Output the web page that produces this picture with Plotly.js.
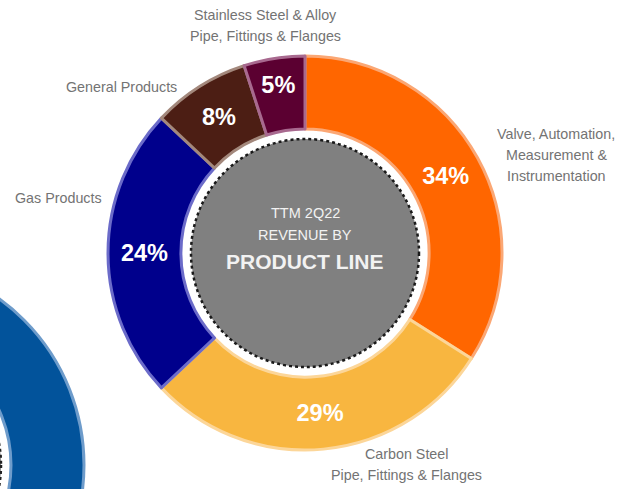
<!DOCTYPE html>
<html>
<head>
<meta charset="utf-8">
<script src="https://cdn.plot.ly/plotly-3.0.1.min.js"></script>
<style>
html,body{margin:0;padding:0;background:#fff;}
#chart{width:632px;height:489px;}
</style>
</head>
<body>
<div id="chart"></div>
<script>
// ---- data ----
const categories = [
  'Valve, Automation, Measurement & Instrumentation',
  'Carbon Steel Pipe, Fittings & Flanges',
  'Gas Products',
  'General Products',
  'Stainless Steel & Alloy Pipe, Fittings & Flanges'
];
const shares = [34, 29, 24, 8, 5];
const labelLines = [
  ['Valve, Automation,', 'Measurement &', 'Instrumentation'],
  ['Carbon Steel', 'Pipe, Fittings & Flanges'],
  ['Gas Products'],
  ['General Products'],
  ['Stainless Steel & Alloy', 'Pipe, Fittings & Flanges']
];
const centerLines = ['TTM 2Q22', 'REVENUE BY', 'PRODUCT LINE'];

// ---- styles ----
const W = 632, H = 489;
const fillColors = ['#FF6600', '#F8B640', '#00008C', '#4C1E14', '#5B0031'];
const edgeColors = ['#FBA774', '#FCD699', '#6B6BC9', '#A3887C', '#A8698F'];
const FONT = '"Liberation Sans", Arial, sans-serif';
const cx = 305, cy = 253, R = 197;
const labelPos = [[556, 155], [406, 464], [58, 198], [121, 87], [265, 26]];
const lineGap = 21;
const centerPos = [[cx, 213], [cx, 235], [cx, 261]];
const centerSizes = [14.5, 14.5, 21];

const px = x => x / W;
const py = y => 1 - y / H;
function circ(x, y, r) {
  return {x0: px(x - r), x1: px(x + r), y0: py(y + r), y1: py(y - r)};
}

const trace = {
  type: 'pie',
  labels: categories,
  values: shares,
  sort: false,
  direction: 'clockwise',
  rotation: 0,
  hole: 0.63,
  texttemplate: '<b>%{value}%</b>',
  textposition: 'inside',
  insidetextorientation: 'horizontal',
  insidetextfont: {family: FONT, size: 23.5, color: '#ffffff'},
  marker: {colors: fillColors, line: {color: edgeColors, width: 3}},
  domain: {x: [px(cx - R), px(cx + R)], y: [py(cy + R), py(cy - R)]},
  showlegend: false,
  hoverinfo: 'label+percent'
};

const shapes = [];
// decorative ring at bottom-left (part of another chart on the slide)
const lc = [-121, 465];
shapes.push(Object.assign({type: 'circle', xref: 'paper', yref: 'paper', layer: 'below',
  fillcolor: '#02539B', line: {color: '#6E9CCB', width: 3}}, circ(lc[0], lc[1], 205)));
shapes.push(Object.assign({type: 'circle', xref: 'paper', yref: 'paper', layer: 'below',
  fillcolor: '#ffffff', line: {color: '#6E9CCB', width: 3}}, circ(lc[0], lc[1], 132)));
shapes.push(Object.assign({type: 'circle', xref: 'paper', yref: 'paper', layer: 'below',
  fillcolor: '#808080', line: {color: '#222', width: 2.5, dash: 'dot'}}, circ(lc[0], lc[1], 122)));
// centre disc
shapes.push(Object.assign({type: 'circle', xref: 'paper', yref: 'paper', layer: 'below',
  fillcolor: '#808080', line: {color: '#1a1a1a', width: 2.5, dash: 'dot'}}, circ(cx, cy, 114)));

const annotations = [];
labelLines.forEach((lines, i) => {
  const n = lines.length;
  lines.forEach((t, k) => {
    annotations.push({xref: 'paper', yref: 'paper', x: px(labelPos[i][0]),
      y: py(labelPos[i][1] + (k - (n - 1) / 2) * lineGap),
      xanchor: 'center', yanchor: 'middle', showarrow: false, text: t,
      font: {family: FONT, size: 14.3, color: '#737373'}});
  });
});
centerLines.forEach((t, i) => {
  annotations.push({xref: 'paper', yref: 'paper', x: px(centerPos[i][0]), y: py(centerPos[i][1]),
    xanchor: 'center', yanchor: 'middle', showarrow: false,
    text: i === 2 ? '<b>' + t + '</b>' : t,
    font: {family: FONT, size: centerSizes[i], color: '#F2F2F2'}});
});

const layout = {
  width: W, height: H,
  margin: {l: 0, r: 0, t: 0, b: 0},
  paper_bgcolor: '#ffffff',
  plot_bgcolor: '#ffffff',
  shapes: shapes,
  annotations: annotations,
  showlegend: false
};

Plotly.newPlot('chart', [trace], layout, {displayModeBar: false, staticPlot: true});
</script>
</body>
</html>
